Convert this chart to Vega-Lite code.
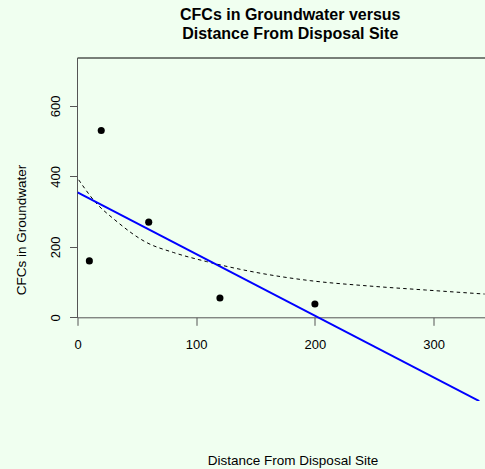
{
  "$schema": "https://vega.github.io/schema/vega-lite/v6.json",
  "width": 407.5,
  "height": 343,
  "autosize": {"type": "none"},
  "padding": {"left": 77.5, "top": 58, "right": 0, "bottom": 68},
  "background": "#F0FFF0",
  "config": {
    "font": "Liberation Sans",
    "view": {"stroke": null}
  },
  "title": {
    "text": ["CFCs in Groundwater versus", " Distance From Disposal Site"],
    "font": "Liberation Sans",
    "fontSize": 16,
    "fontWeight": "bold",
    "color": "#000000",
    "anchor": "middle",
    "dx": 9,
    "offset": 15,
    "lineHeight": 19.3
  },
  "datasets": {
    "wells": [
      {"x": 10, "y": 160},
      {"x": 20, "y": 530},
      {"x": 60, "y": 270},
      {"x": 120, "y": 55},
      {"x": 200, "y": 38}
    ],
    "linear_fit": [
      {"x": 0, "y": 354.4},
      {"x": 338.5, "y": -237.6}
    ],
    "curve_fit": [
      {"x": 1, "y": 390},
      {"x": 14.7, "y": 328},
      {"x": 31.6, "y": 276},
      {"x": 58.3, "y": 212},
      {"x": 80.7, "y": 184},
      {"x": 108.8, "y": 158},
      {"x": 151, "y": 127},
      {"x": 196, "y": 104},
      {"x": 245, "y": 89},
      {"x": 293, "y": 77.5},
      {"x": 343, "y": 66}
    ],
    "frame": [{}]
  },
  "layer": [
    {
      "data": {"name": "frame"},
      "mark": {"type": "rule", "color": "#000000", "strokeWidth": 1},
      "encoding": {
        "x": {"datum": 0, "type": "quantitative"},
        "x2": {"datum": 343.3},
        "y": {"datum": 735.6, "type": "quantitative"}
      }
    },
    {
      "data": {"name": "frame"},
      "mark": {"type": "rule", "color": "#555555", "strokeWidth": 1},
      "encoding": {
        "x": {"datum": 0, "type": "quantitative"},
        "y": {"datum": 0, "type": "quantitative"},
        "y2": {"datum": 735.6}
      }
    },
    {
      "data": {"name": "curve_fit"},
      "mark": {"type": "line", "color": "#000000", "strokeWidth": 1, "strokeDash": [3.5, 3.2], "interpolate": "monotone", "clip": true},
      "encoding": {
        "x": {"field": "x", "type": "quantitative"},
        "y": {"field": "y", "type": "quantitative"}
      }
    },
    {
      "data": {"name": "linear_fit"},
      "mark": {"type": "line", "color": "#0000FF", "strokeWidth": 2, "clip": true},
      "encoding": {
        "x": {"field": "x", "type": "quantitative"},
        "y": {"field": "y", "type": "quantitative"}
      }
    },
    {
      "data": {"name": "wells"},
      "mark": {"type": "point", "filled": true, "color": "#000000", "opacity": 1, "size": 50, "strokeWidth": 0},
      "encoding": {
        "x": {
          "field": "x",
          "type": "quantitative",
          "scale": {"domain": [0, 343.3], "nice": false, "zero": false},
          "axis": {
            "orient": "bottom",
            "offset": -83.7,
            "values": [0, 100, 200, 300],
            "grid": false,
            "domainColor": "#555555",
            "domainWidth": 1,
            "tickColor": "#555555",
            "tickSize": 8,
            "labelFont": "Liberation Sans",
            "labelFontSize": 13,
            "labelColor": "#000000",
            "labelPadding": 23,
            "labelBaseline": "alphabetic",
            "labelFlush": false,
            "labelOverlap": false,
            "title": "Distance From Disposal Site",
            "titleFont": "Liberation Sans",
            "titleFontSize": 13.5,
            "titleFontWeight": "normal",
            "titleColor": "#000000",
            "titleX": 215,
            "titleY": 146.7,
            "titleAlign": "center",
            "titleBaseline": "alphabetic"
          }
        },
        "y": {
          "field": "y",
          "type": "quantitative",
          "scale": {"domain": [-237.4, 735.6], "nice": false, "zero": false},
          "axis": {
            "orient": "left",
            "domain": false,
            "values": [0, 200, 400, 600],
            "grid": false,
            "tickColor": "#555555",
            "tickSize": 8,
            "labelFont": "Liberation Sans",
            "labelFontSize": 13,
            "labelColor": "#000000",
            "labelAngle": 270,
            "labelAlign": "center",
            "labelBaseline": "alphabetic",
            "labelPadding": 10,
            "labelFlush": false,
            "labelOverlap": false,
            "title": "CFCs in Groundwater",
            "titleFont": "Liberation Sans",
            "titleFontSize": 13.5,
            "titleFontWeight": "normal",
            "titleColor": "#000000",
            "titleAngle": 270,
            "titleAlign": "center",
            "titleBaseline": "alphabetic",
            "titleX": -52.5,
            "titleY": 171.5
          }
        }
      }
    }
  ]
}
